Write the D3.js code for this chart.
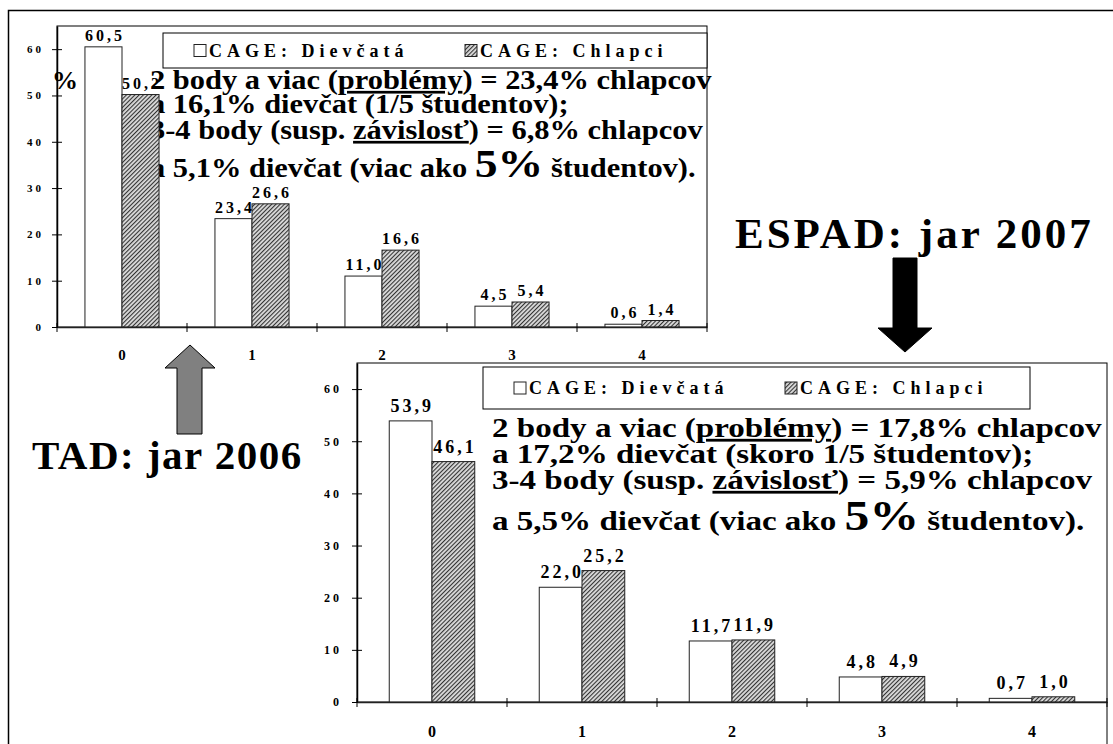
<!DOCTYPE html>
<html lang="sk">
<head>
<meta charset="utf-8">
<script src="https://d3js.org/d3.v7.min.js"></script>
<style>
  body { margin: 0; background: #fff; }
  svg { display: block; font-family: "Liberation Serif", "Times New Roman", serif; font-weight: bold; }
  .tick text { font-family: "Liberation Serif", serif; font-weight: bold; }
</style>
</head>
<body>
<svg id="slide" width="1113" height="744"></svg>
<script>
// data
const categories = ["0", "1", "2", "3", "4"];
const seriesNames = ["CAGE: Dievčatá", "CAGE: Chlapci"];
const yTicks = [0, 10, 20, 30, 40, 50, 60];

// TAD 2006
const tadGirls = [60.5, 23.4, 11.0, 4.5, 0.6];
const tadBoys  = [50.2, 26.6, 16.6, 5.4, 1.4];
// ESPAD 2007
const espadGirls = [53.9, 22.0, 11.7, 4.8, 0.7];
const espadBoys  = [46.1, 25.2, 11.9, 4.9, 1.0];

// notes (u = underline, big = large text)
const tadNotes = [
  [{t: "2 body a viac ("}, {t: "problémy", u: true}, {t: ") = 23,4% chlapcov"}],
  [{t: "a 16,1% dievčat (1/5 študentov);"}],
  [{t: "3-4 body (susp. "}, {t: "závislosť", u: true}, {t: ") = 6,8% chlapcov"}],
  [{t: "a 5,1% dievčat (viac ako "}, {t: "5%", big: true}, {t: " študentov)."}]
];
const espadNotes = [
  [{t: "2 body a viac ("}, {t: "problémy", u: true}, {t: ") = 17,8% chlapcov"}],
  [{t: "a 17,2% dievčat (skoro 1/5 študentov);"}],
  [{t: "3-4 body (susp. "}, {t: "závislosť", u: true}, {t: ") = 5,9% chlapcov"}],
  [{t: "a 5,5% dievčat (viac ako "}, {t: "5%", big: true}, {t: " študentov)."}]
];

const svg = d3.select("#slide");

// hatch pattern for boys
const defs = svg.append("defs");
const pat = defs.append("pattern")
  .attr("id", "hatch")
  .attr("width", 3).attr("height", 3)
  .attr("patternUnits", "userSpaceOnUse")
  .attr("patternTransform", "rotate(45)");
pat.append("rect").attr("width", 3).attr("height", 3).attr("fill", "#dcdcdc");
pat.append("line").attr("x1", 0.5).attr("y1", 0).attr("x2", 0.5).attr("y2", 3)
  .attr("stroke", "#333").attr("stroke-width", 1.2);

const fmt = v => v.toFixed(1).replace(".", ",");

// outer frame
svg.append("path")
  .attr("d", "M8.5,744 V10.5 H1113")
  .attr("fill", "none").attr("stroke", "#000").attr("stroke-width", 1.5);

function drawChart(c) {
  const g = svg.append("g");
  const x = d3.scaleBand().domain(categories).range([c.x0, c.x1]);
  const y = d3.scaleLinear().domain([0, 65]).range([c.y0, c.y1]);
  const bw = x.bandwidth() * 0.285;

  // plot box
  g.append("rect")
    .attr("x", c.x0).attr("y", c.y1)
    .attr("width", c.x1 - c.x0).attr("height", c.y0 - c.y1)
    .attr("fill", "none").attr("stroke", "#000");
  if (c.frameBottom) {
    g.append("line")
      .attr("x1", c.x1).attr("x2", c.x1)
      .attr("y1", c.y0).attr("y2", c.frameBottom)
      .attr("stroke", "#000");
  }

  // notes, stretched to the width of the first line
  const notes = g.append("g").attr("transform", `translate(${c.noteX},0)`);
  const inner = notes.append("g");
  c.notes.forEach((line, i) => {
    const t = inner.append("text")
      .attr("x", 0).attr("y", c.noteY[i])
      .style("font-size", c.noteSize + "px");
    line.forEach(s => {
      t.append("tspan")
        .text(s.t)
        .style("text-decoration", s.u ? "underline" : null)
        .style("font-size", s.big ? (c.noteSize * 1.5) + "px" : null);
    });
  });
  const natural = inner.select("text").node().getComputedTextLength();
  inner.attr("transform", `scale(${c.noteW / natural},1)`);

  // bars
  [c.girls, c.boys].forEach((vals, s) => {
    g.append("g").selectAll("rect")
      .data(vals)
      .enter()
      .append("rect")
      .attr("x", (d, i) => x(categories[i]) + x.bandwidth() / 2 + (s - 1) * bw)
      .attr("y", d => y(d))
      .attr("width", bw)
      .attr("height", d => y(0) - y(d))
      .attr("fill", s ? "url(#hatch)" : "#fff")
      .attr("stroke", "#222");

    g.append("g").selectAll("text")
      .data(vals)
      .enter()
      .append("text")
      .attr("x", (d, i) => x(categories[i]) + x.bandwidth() / 2 + (s - 0.5) * bw + c.valLs / 2)
      .attr("y", d => y(d) - c.valGap)
      .attr("text-anchor", "middle")
      .style("font-size", c.valSize + "px")
      .style("letter-spacing", c.valLs + "px")
      .text(fmt);
  });

  // y axis
  const ya = g.append("g")
    .attr("transform", `translate(${c.x0},0)`)
    .call(d3.axisLeft(y).tickValues(yTicks).tickSize(5).tickSizeOuter(0).tickPadding(c.tickPad).tickFormat(d3.format("d")));
  ya.select(".domain").attr("stroke-width", 1.5);
  ya.selectAll(".tick line").attr("x1", 5);
  ya.selectAll(".tick text")
    .style("font-size", c.tickSize + "px")
    .style("letter-spacing", "3px");

  // x axis: ticks on the category boundaries
  const xa = g.append("g")
    .attr("transform", `translate(0,${c.y0})`)
    .call(d3.axisBottom(x).tickSize(0).tickSizeOuter(0).tickPadding(c.catPad));
  xa.select(".domain").attr("stroke-width", 1.5).attr("stroke", "#222");
  xa.selectAll(".tick text").style("font-size", c.catSize + "px");
  xa.selectAll("line.edge")
    .data(categories.map(k => x(k)).concat([c.x1]))
    .enter()
    .append("line")
    .attr("class", "edge")
    .attr("x1", d => d).attr("x2", d => d)
    .attr("y1", -4).attr("y2", 5)
    .attr("stroke", "#000");

  // legend
  const lg = g.append("g").attr("transform", `translate(${c.legX},${c.legY})`);
  lg.append("rect")
    .attr("width", c.legW).attr("height", c.legH)
    .attr("fill", "#fff").attr("stroke", "#000");
  seriesNames.forEach((name, s) => {
    const ox = s ? 302 : 31;
    lg.append("rect")
      .attr("x", ox).attr("y", c.legH / 2 - 6)
      .attr("width", 12).attr("height", 12)
      .attr("fill", s ? "url(#hatch)" : "#fff")
      .attr("stroke", "#222");
    lg.append("text")
      .attr("x", ox + 15).attr("y", c.legH / 2 + 6)
      .style("font-size", "18px")
      .style("letter-spacing", "5px")
      .text(name);
  });
}

drawChart({
  x0: 57, x1: 707, y0: 327, y1: 26,
  girls: tadGirls, boys: tadBoys,
  notes: tadNotes, noteX: 150, noteW: 562, noteSize: 27, noteY: [89, 113, 139, 177],
  valSize: 16, valLs: 3, valGap: 6,
  tickSize: 11, tickPad: 8, catSize: 15, catPad: 22,
  legX: 163, legY: 33, legW: 544, legH: 35
});

drawChart({
  x0: 357, x1: 1107, y0: 702, y1: 363, frameBottom: 744,
  girls: espadGirls, boys: espadBoys,
  notes: espadNotes, noteX: 492, noteW: 610, noteSize: 28, noteY: [437, 463, 489, 530],
  valSize: 18, valLs: 3, valGap: 9,
  tickSize: 12, tickPad: 10, catSize: 16, catPad: 24,
  legX: 483, legY: 367, legW: 547, legH: 42
});

// "%" label of the first chart
svg.append("text")
  .attr("x", 52).attr("y", 89)
  .style("font-size", "26px")
  .text("%");

// titles and arrows
svg.append("text")
  .attr("x", 735).attr("y", 248)
  .style("font-size", "43px")
  .style("letter-spacing", "3px")
  .text("ESPAD: jar 2007");

svg.append("text")
  .attr("x", 32).attr("y", 469)
  .style("font-size", "41px")
  .style("letter-spacing", "1.5px")
  .text("TAD: jar 2006");

const arrow = d3.line();
svg.append("path")
  .attr("d", arrow([[893, 258], [917, 258], [917, 328], [932, 328], [905, 352], [878, 328], [893, 328]]) + "Z")
  .attr("fill", "#000").attr("stroke", "#000");

svg.append("path")
  .attr("d", arrow([[190, 345], [215, 368], [202, 368], [202, 434], [177, 434], [177, 368], [165, 368]]) + "Z")
  .attr("fill", "#808080").attr("stroke", "#000");
</script>
</body>
</html>
